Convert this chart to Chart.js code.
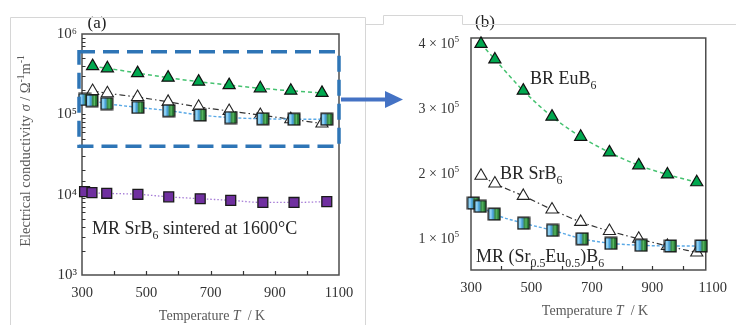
<!DOCTYPE html>
<html><head><meta charset="utf-8">
<script src="https://cdn.jsdelivr.net/npm/chart.js@4.4.1/dist/chart.umd.min.js"></script>
<style>
html,body{margin:0;padding:0;background:#fff;}
#wrap{position:relative;width:736px;height:325px;overflow:hidden;background:#fff;}
canvas{position:absolute;top:0;}
#c1{left:0;} #c2{left:365px;}
svg{position:absolute;left:0;top:0;pointer-events:none;}
</style></head><body>
<div id="wrap">
<canvas id="c1" width="365" height="325"></canvas>
<canvas id="c2" width="371" height="325"></canvas>
<svg width="736" height="325">
  <path d="M10.5 325 V17.5 H365.5 V325" fill="none" stroke="#d6d6d6" stroke-width="1"/>
  <path d="M365 24.5 H383.5 V15.5 H462.5 V24.5 H736" fill="none" stroke="#d6d6d6" stroke-width="1"/>
  <line x1="341" y1="99.5" x2="387" y2="99.5" stroke="#4472c4" stroke-width="4"/>
  <polygon points="385,91 403,99.5 385,108" fill="#4472c4"/>
</svg>
</div>
<script>
// ---------- data ----------
const tempTri = [333, 379, 473, 568, 663, 758, 855, 950, 1047];
const brEuB6  = [398000, 374000, 326000, 286000, 255000, 231000, 211000, 197000, 185000];
const brSrB6  = [195000, 183000, 164000, 143000, 124000, 110000, 98000, 87000, 77000];
const tempSq  = [308, 331, 377, 474, 570, 668, 763, 863, 960, 1062];
const mrSrEuB6 = [153000, 148000, 136000, 122000, 111000, 98000, 91000, 88000, 87000, 87000];
const mrSrB6_1600 = [10900, 10600, 10400, 10100, 9400, 8900, 8500, 8000, 8000, 8200];

const xTickValues = [300, 500, 700, 900, 1100];
const xTickLabels = ['300', '500', '700', '900', '1100'];
const yLogTickValues = [1e3, 1e4, 1e5, 1e6];
const yLogTickLabels = ['10³', '10⁴', '10⁵', '10⁶'];
const yLinTickValues = [100000, 200000, 300000, 400000];
const yLinTickLabels = ['1 × 10⁵', '2 × 10⁵', '3 × 10⁵', '4 × 10⁵'];

// ---------- helpers ----------
const SERIF = "'Liberation Serif','Times New Roman',serif";
const pts = (xs, ys) => xs.map((x, i) => ({x, y: ys[i]}));
const near = (a, b) => Math.abs(a - b) < 1e-6 * Math.max(1, Math.abs(b));

function rich(ctx, x, y, segs, size, color, align) {
  ctx.save();
  ctx.fillStyle = color; ctx.textBaseline = 'alphabetic'; ctx.textAlign = 'left';
  const parts = segs.map(([t, k]) => {
    const s = (k === 'sub' || k === 'sup') ? size * 0.66 : size;
    const f = (k === 'i' ? 'italic ' : '') + s + 'px ' + SERIF;
    ctx.font = f;
    return {t, k, f, w: ctx.measureText(t).width};
  });
  const total = parts.reduce((a, p) => a + p.w, 0);
  let cx = align === 'center' ? x - total / 2 : (align === 'right' ? x - total : x);
  for (const p of parts) {
    ctx.font = p.f;
    const dy = p.k === 'sub' ? size * 0.3 : p.k === 'sup' ? -size * 0.42 : 0;
    ctx.fillText(p.t, cx, y + dy);
    cx += p.w;
  }
  ctx.restore();
}

function makeSq(size) {
  const c = document.createElement('canvas'); c.width = c.height = size;
  const g = c.getContext('2d');
  const grad = g.createLinearGradient(1, 0, size - 1, 0);
  grad.addColorStop(0, '#2a9fe0'); grad.addColorStop(0.18, '#a6def8'); grad.addColorStop(0.42, '#2f93d6');
  grad.addColorStop(0.5, '#6fa08c'); grad.addColorStop(0.56, '#1f7a34'); grad.addColorStop(0.7, '#62c068');
  grad.addColorStop(0.82, '#1d6f2e'); grad.addColorStop(1, '#3e9a48');
  g.fillStyle = grad; g.fillRect(1, 1, size - 2, size - 2);
  g.strokeStyle = '#1a1a1a'; g.lineWidth = 1.4; g.strokeRect(1.2, 1.2, size - 2.4, size - 2.4);
  return c;
}
const sqImg = makeSq(14);

const tickFont = {family: SERIF, size: 14.5};
const tickColor = '#333';
const titleColor = '#595959';

function dsSq() {
  return {data: pts(tempSq, mrSrEuB6), pointStyle: sqImg, pointRadius: 7, borderColor: '#5aa9e6',
    borderDash: [3, 2], borderWidth: 1.4, cubicInterpolationMode: 'monotone', clip: false};
}
function dsSr() {
  return {data: pts(tempTri, brSrB6), pointStyle: 'triangle', pointRadius: 7, pointBackgroundColor: '#fff',
    pointBorderColor: '#222', pointBorderWidth: 1.1, borderColor: '#333', borderDash: [6, 3, 1.5, 3],
    borderWidth: 1.2, cubicInterpolationMode: 'monotone', clip: false};
}
function dsEu() {
  return {data: pts(tempTri, brEuB6), pointStyle: 'triangle', pointRadius: 7, pointBackgroundColor: '#00a84f',
    pointBorderColor: '#111', pointBorderWidth: 1.2, borderColor: '#45c270', borderDash: [4, 3],
    borderWidth: 1.5, cubicInterpolationMode: 'monotone', clip: false};
}

function frameAndTicks(chart, frameRight, yMinorFilter) {
  const {ctx, chartArea: a, scales: {x, y}} = chart;
  ctx.save();
  ctx.strokeStyle = '#4d4d4d'; ctx.lineWidth = 1.5;
  const r = frameRight != null ? frameRight : a.right;
  ctx.strokeRect(a.left, a.top, r - a.left, a.bottom - a.top);
  ctx.lineWidth = 1.2; ctx.strokeStyle = '#333';
  ctx.beginPath();
  x.ticks.forEach(t => {
    if (t.value <= x.min || t.value >= x.max) return;
    const px = Math.round(x.getPixelForValue(t.value)) + 0.5;
    ctx.moveTo(px, a.bottom); ctx.lineTo(px, a.bottom - 4);
  });
  y.ticks.forEach(t => {
    if (t.value <= y.min || t.value >= y.max) return;
    if (!yMinorFilter(t.value)) return;
    const py = Math.round(y.getPixelForValue(t.value)) + 0.5;
    ctx.moveTo(a.left, py); ctx.lineTo(a.left + 3.5, py);
  });
  ctx.stroke();
  ctx.restore();
}

function xTitle(ctx, cx, by) {
  rich(ctx, cx, by, [['Temperature ', 'n'], ['T', 'i'], ['  / K', 'n']], 14, titleColor, 'center');
}

// ---------- left chart ----------
const leftPlugin = {
  id: 'leftDeco',
  beforeDatasetsDraw(chart) { frameAndTicks(chart, null, () => true); },
  afterDatasetsDraw(chart) {
    const {ctx, scales: {x, y}} = chart;
    const x1 = x.getPixelForValue(300) - 3, x2 = x.getPixelForValue(1100);
    const y1 = y.getPixelForValue(6e5), y2 = y.getPixelForValue(4e4);
    ctx.save();
    ctx.strokeStyle = '#2e75b6'; ctx.lineWidth = 3.5; ctx.setLineDash([16, 8]);
    ctx.strokeRect(x1, y1, x2 - x1, y2 - y1);
    ctx.restore();
  },
  afterDraw(chart) {
    const ctx = chart.ctx;
    xTitle(ctx, 212, 320);
    ctx.save(); ctx.translate(25, 151); ctx.rotate(-Math.PI / 2);
    rich(ctx, 0, 5, [['Electrical conductivity ', 'n'], ['σ', 'i'], [' / Ω', 'n'], ['-1', 'sup'], ['m', 'n'], ['-1', 'sup']], 14.5, titleColor, 'center');
    ctx.restore();
    rich(ctx, 97, 28, [['(a)', 'n']], 17, '#222', 'center');
    rich(ctx, 92, 234, [['MR SrB', 'n'], ['6', 'sub'], [' sintered at 1600°C', 'n']], 18, '#262626', 'left');
  }
};

new Chart(document.getElementById('c1'), {
  type: 'line',
  data: {datasets: [dsSq(), dsSr(), dsEu(),
    {data: pts(tempSq, mrSrB6_1600), pointStyle: 'rect', pointRadius: 7, pointBackgroundColor: '#7030a0',
     pointBorderColor: '#1a1a1a', pointBorderWidth: 1.3, borderColor: '#a57bd6', borderDash: [1.5, 2],
     borderWidth: 1.3, cubicInterpolationMode: 'monotone', clip: false}]},
  options: {
    animation: false, responsive: false, devicePixelRatio: 1,
    plugins: {legend: {display: false}, tooltip: {enabled: false}},
    layout: {padding: {top: 34, right: 26, left: 0, bottom: 0}},
    scales: {
      x: {type: 'linear', min: 300, max: 1100,
        ticks: {stepSize: 100, autoSkip: false, maxRotation: 0, font: tickFont, color: tickColor, padding: 9,
          callback: v => { const i = xTickValues.findIndex(t => near(v, t)); return i >= 0 ? xTickLabels[i] : ''; }},
        grid: {display: false, drawTicks: false}, border: {display: false},
        afterFit: s => { s.height = 50; }},
      y: {type: 'logarithmic', min: 1e3, max: 1e6,
        ticks: {autoSkip: false, font: {family: SERIF, size: 15}, color: tickColor, padding: 5,
          callback: v => { const i = yLogTickValues.findIndex(t => near(v, t)); return i >= 0 ? yLogTickLabels[i] : ''; }},
        grid: {display: false, drawTicks: false}, border: {display: false},
        afterFit: s => { s.width = 82; }}
    }
  },
  plugins: [leftPlugin]
});

// ---------- right chart ----------
const rightPlugin = {
  id: 'rightDeco',
  beforeDatasetsDraw(chart) {
    frameAndTicks(chart, chart.chartArea.right - 7, v => Math.abs(v / 50000 - Math.round(v / 50000)) < 1e-6);
  },
  afterDraw(chart) {
    const ctx = chart.ctx;
    const y = chart.scales.y, a = chart.chartArea;
    // y tick labels (fallback drawn through the scale if the library skipped them)
    if (!chart._yLabelsOk) {
      yLinTickValues.forEach((v, i) => {
        const py = y.getPixelForValue(v);
        const n = yLinTickLabels[i].split(' × ');
        rich(ctx, a.left - 12, py + 5, [[n[0] + ' × 10', 'n'], ['5', 'sup']], 14, tickColor, 'right');
      });
    }
    xTitle(ctx, 230, 315);
    rich(ctx, 120, 27, [['(b)', 'n']], 17, '#222', 'center');
    rich(ctx, 165, 84, [['BR EuB', 'n'], ['6', 'sub']], 18, '#262626', 'left');
    rich(ctx, 135, 179, [['BR SrB', 'n'], ['6', 'sub']], 18, '#262626', 'left');
    rich(ctx, 111, 262, [['MR (Sr', 'n'], ['0.5', 'sub'], ['Eu', 'n'], ['0.5', 'sub'], [')B', 'n'], ['6', 'sub']], 18, '#262626', 'left');
  }
};

new Chart(document.getElementById('c2'), {
  type: 'line',
  data: {datasets: [dsSq(), dsSr(), dsEu()]},
  options: {
    animation: false, responsive: false, devicePixelRatio: 1,
    plugins: {legend: {display: false}, tooltip: {enabled: false}},
    layout: {padding: {top: 38, right: 20, left: 0, bottom: 0}},
    scales: {
      x: {type: 'linear', min: 300, max: 1100,
        ticks: {stepSize: 100, autoSkip: false, maxRotation: 0, font: tickFont, color: tickColor, padding: 9,
          callback: v => { const i = xTickValues.findIndex(t => near(v, t)); return i >= 0 ? xTickLabels[i] : ''; }},
        grid: {display: false, drawTicks: false}, border: {display: false},
        afterFit: s => { s.height = 55; }},
      y: {type: 'linear', min: 50000, max: 407000,
        ticks: {stepSize: 50000, autoSkip: false, display: false},
        grid: {display: false, drawTicks: false}, border: {display: false},
        afterFit: s => { s.width = 106; }}
    }
  },
  plugins: [rightPlugin]
});
</script>
</body></html>
